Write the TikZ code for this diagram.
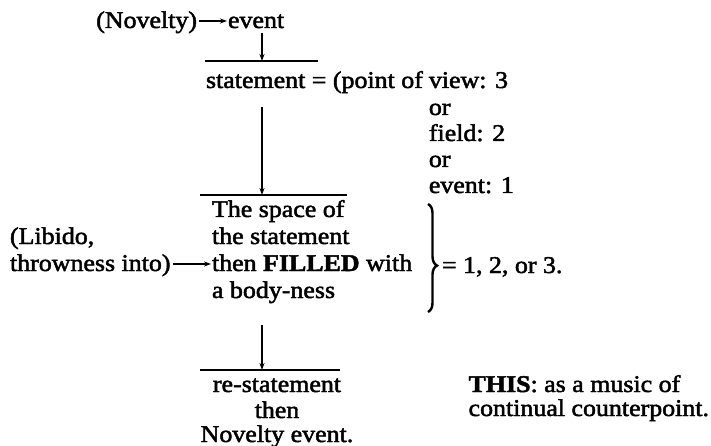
\documentclass[tikz,border=0pt]{standalone}
\usepackage{fontspec}
\setmainfont{Liberation Serif}[FakeStretch=1.08, FakeBold=2]
\usetikzlibrary{arrows.meta,decorations.pathreplacing}
\tikzset{
  txt/.style={inner sep=0pt, outer sep=0pt, anchor=base west, font=\fontsize{24}{28}\selectfont},
  ctxt/.style={txt, anchor=base},
  arr/.style={line width=1.2pt, -{Stealth[length=7pt,width=5pt]}},
  bar/.style={line width=1.4pt},
  bigbrace/.style={decorate, line width=2.4pt,
    decoration={brace, amplitude=9pt, aspect=0.57}}
}
\begin{document}
\begin{tikzpicture}[x=1pt,y=-1pt]
\useasboundingbox (0,0) rectangle (711,446);

% first line: novelty feeds the event
\node[txt, anchor=base east] (nov) at (197,28) {(Novelty)};
\node[txt] (ev) at (228,28) {event};
\draw[arr] ([shift={(2,-7)}]nov.base east) -- ([shift={(-1,-7)}]ev.base west);

% bar over the statement
\coordinate (b1l) at (205,61);
\coordinate (b1r) at (318,61);
\draw[bar] (b1l) -- (b1r);
\coordinate (a1) at (262,33);
\draw[arr] (a1) -- (a1 |- b1l);

% the statement and its three readings
\node[txt] (st) at (206,88) {statement = (point of};
\node[txt] (r1) at ([xshift=6pt]st.base east) {view: 3};
\node[txt] (r2) at (r1.base west |- 0,115) {or};
\node[txt] (r3) at (r1.base west |- 0,141) {field: 2};
\node[txt] (r4) at (r1.base west |- 0,167) {or};
\node[txt] (r5) at (r1.base west |- 0,193) {event: 1};

% bar over the filled space
\coordinate (b2l) at (200,195);
\coordinate (b2r) at (347,195);
\draw[bar] (b2l) -- (b2r);
\coordinate (a2) at (262,107);
\draw[arr] (a2) -- (a2 |- b2l);

% the space of the statement
\node[txt] (s1) at (212,217) {The space of};
\node[txt] (s2) at (212,244) {the statement};
\node[txt] (s3) at (212,271) {then \textbf{FILLED} with};
\node[txt] (s4) at (212,298) {a body-ness};

% libido enters from the left
\node[txt] (l1) at (10,244) {(Libido,};
\node[txt] (l2) at (10,271) {throwness into)};
\draw[arr] ([shift={(2,-7)}]l2.base east) -- ([shift={(-1,-7)}]s3.base west);

% brace and its value
\coordinate (bt) at (428,204);
\coordinate (bb) at (428,312);
\draw[bigbrace] (bt) -- (bb);
\node[txt] (val) at (442,273) {= 1, 2, or 3.};

% bar over the re-statement
\coordinate (b3l) at (200,370);
\coordinate (b3r) at (340,370);
\draw[bar] (b3l) -- (b3r);
\coordinate (a3) at (262,325);
\draw[arr] (a3) -- (a3 |- b3l);

\node[ctxt] (e1) at (277,392) {re-statement};
\node[ctxt] (e2) at (277,418) {then};
\node[ctxt] (e3) at (277,442) {Novelty event.};

% closing remark, flush with the right margin
\node[txt, anchor=base east] (t2) at (709,416) {continual counterpoint.};
\node[txt] (t1) at (t2.base west |- 0,392) {\textbf{THIS}: as a music of};
\end{tikzpicture}
\end{document}
